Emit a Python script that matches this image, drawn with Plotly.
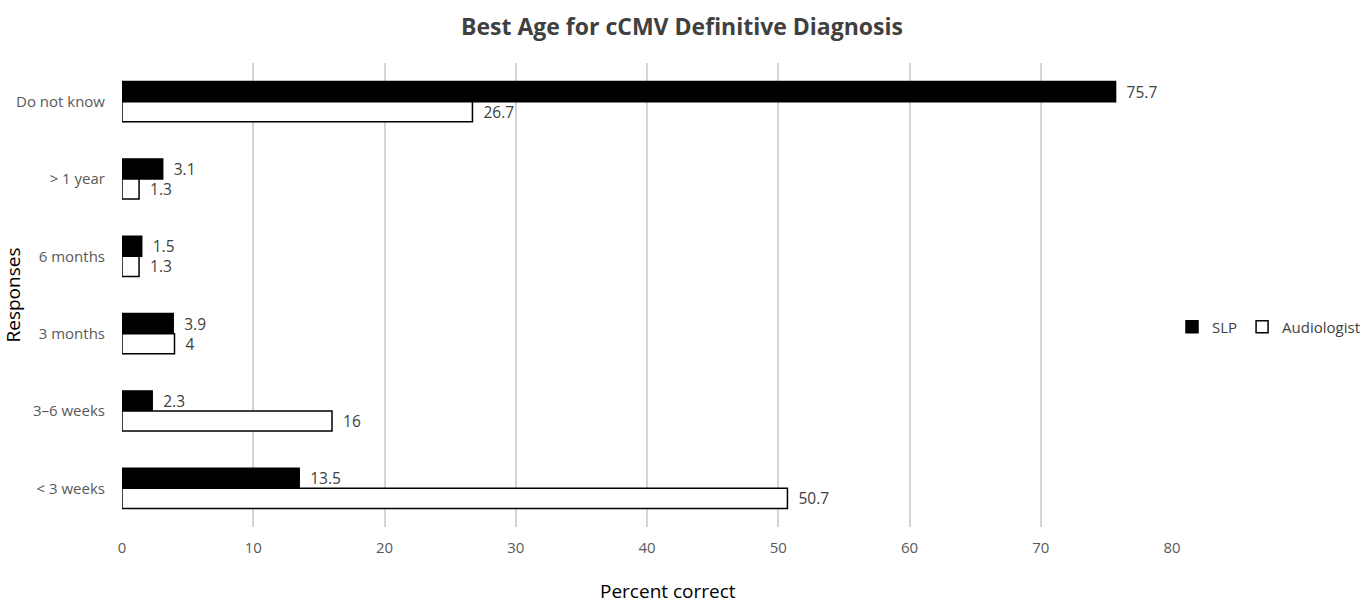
import plotly.graph_objects as go

categories = ["Do not know", "> 1 year", "6 months", "3 months", "3\u20136 weeks", "< 3 weeks"]
slp = [75.7, 3.1, 1.5, 3.9, 2.3, 13.5]
audiologist = [26.7, 1.3, 1.3, 4, 16, 50.7]

FONT = "Open Sans, Calibri, sans-serif"
label_font = dict(family=FONT, size=15.5, color="#404040")

fig = go.Figure()
fig.add_trace(go.Bar(
    name="SLP", y=categories, x=slp, orientation="h",
    marker=dict(color="black", line=dict(color="black", width=1.5)),
    text=slp, texttemplate="  %{x}", textposition="outside",
    textfont=label_font, constraintext="none", cliponaxis=False,
))
fig.add_trace(go.Bar(
    name="Audiologist", y=categories, x=audiologist, orientation="h",
    marker=dict(color="white", line=dict(color="black", width=1.5)),
    text=audiologist, texttemplate="  %{x}", textposition="outside",
    textfont=label_font, constraintext="none", cliponaxis=False,
))

fig.update_layout(
    width=1364, height=608,
    paper_bgcolor="white", plot_bgcolor="white",
    margin=dict(l=122, r=192, t=63, b=81),
    barmode="group", bargap=0.48, bargroupgap=0,
    font=dict(family=FONT, size=15, color="#595959"),
    title=dict(text="<b>Best Age for cCMV Definitive Diagnosis</b>",
               x=0.5, xanchor="center", y=0.955, yanchor="middle",
               font=dict(size=23, color="#404040")),
    legend=dict(orientation="h", xref="container", yref="paper",
                x=1172 / 1364, xanchor="left", y=(527 - 327) / 464, yanchor="middle",
                font=dict(size=15, color="#404040"), traceorder="normal",
                itemwidth=30),
    showlegend=True,
    annotations=[dict(
        text="Percent correct", xref="paper", yref="paper",
        x=(668 - 122) / 1050, y=-(591 - 527) / 464,
        xanchor="center", yanchor="middle", showarrow=False,
        font=dict(family=FONT, size=19, color="black"),
    )],
)
fig.update_xaxes(
    range=[0, 80], dtick=10, showgrid=True, gridcolor="#d4d4d4", gridwidth=1.5,
    zeroline=False, showline=False, ticks="", ticklabelstandoff=10,
    automargin=False,
)
fig.update_yaxes(
    categoryorder="array", categoryarray=categories, autorange="reversed",
    showgrid=False, zeroline=False, showline=False, ticks="", ticklabelstandoff=16,
    automargin=False,
    title=dict(text="Responses", font=dict(size=19, color="black"), standoff=26),
)

fig.write_html("out.html")
